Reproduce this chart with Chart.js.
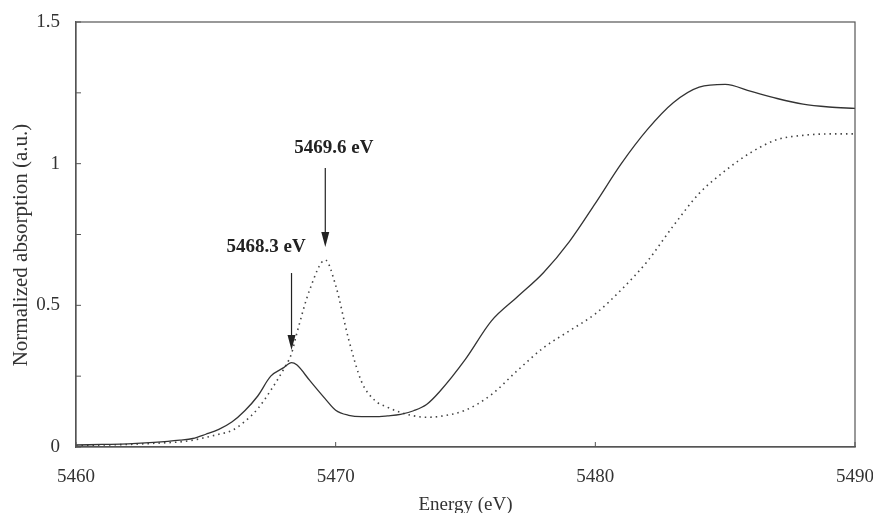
<!DOCTYPE html>
<html>
<head>
<meta charset="utf-8">
<script src="https://cdn.jsdelivr.net/npm/chart.js@4.4.1/dist/chart.umd.min.js"></script>
<style>
  html, body { margin: 0; padding: 0; background: #fff; }
  #wrap { width: 873px; height: 513px; }
</style>
</head>
<body>
<div id="wrap"><canvas id="xanes"></canvas></div>
<script>
// energy grid (eV)
const energy = [5460, 5461, 5462, 5463, 5464, 5464.5, 5465, 5465.5, 5466, 5466.5,
  5467, 5467.5, 5468, 5468.3, 5468.5, 5469, 5469.6, 5470, 5470.5, 5471,
  5471.5, 5472, 5472.5, 5473, 5473.5, 5474, 5475, 5476, 5477, 5478,
  5479, 5480, 5481, 5482, 5483, 5484, 5485, 5486, 5487, 5488, 5489, 5490];

// solid curve
const solidAbs = [0.007, 0.009, 0.011, 0.016, 0.024, 0.03, 0.045, 0.062, 0.088, 0.128,
  0.18, 0.25, 0.28, 0.298, 0.29, 0.235, 0.17, 0.13, 0.112, 0.107,
  0.107, 0.11, 0.115, 0.128, 0.15, 0.195, 0.31, 0.445, 0.53, 0.615,
  0.725, 0.86, 1.0, 1.12, 1.215, 1.27, 1.28, 1.255, 1.23, 1.21, 1.2, 1.195];

// dotted curve
const dottedAbs = [0.005, 0.007, 0.009, 0.013, 0.018, 0.024, 0.034, 0.045, 0.058, 0.09,
  0.135, 0.2, 0.275, 0.33, 0.4, 0.555, 0.66, 0.57, 0.38, 0.23,
  0.165, 0.14, 0.122, 0.11, 0.105, 0.108, 0.13, 0.185, 0.27, 0.35,
  0.41, 0.47, 0.555, 0.655, 0.78, 0.895, 0.975, 1.04, 1.085, 1.1, 1.105, 1.105];

const yTickLabels = [0, 0.5, 1, 1.5];

// peak annotations: text, arrow energy, arrow top / tip, label position
const peakLabels = ['5469.6 eV', '5468.3 eV'];
const peakEnergy = [5469.6, 5468.3];
const arrowFrom = [0.985, 0.614];
const arrowTo = [0.706, 0.342];
const labelEnergy = [5469.93, 5467.32];
const labelAbs = [1.055, 0.706];

const toPoints = vals => energy.map((e, i) => ({ x: e, y: vals[i] }));

const serif = '"Liberation Serif", "Times New Roman", serif';
const ink = '#333';

// frame + inward ticks + arrows
const decor = {
  id: 'decor',
  afterDraw(chart) {
    const { ctx, chartArea: a, scales } = chart;
    const xs = scales.x, ys = scales.y;
    ctx.save();
    ctx.strokeStyle = '#555';
    ctx.lineWidth = 1.2;
    ctx.strokeRect(a.left, a.top, a.right - a.left, a.bottom - a.top);

    ctx.lineWidth = 1;
    xs.ticks.forEach(t => {
      const px = xs.getPixelForValue(t.value);
      ctx.beginPath();
      ctx.moveTo(px, a.bottom);
      ctx.lineTo(px, a.bottom - 5);
      ctx.stroke();
    });
    ys.ticks.forEach(t => {
      const py = ys.getPixelForValue(t.value);
      ctx.beginPath();
      ctx.moveTo(a.left, py);
      ctx.lineTo(a.left + 5, py);
      ctx.stroke();
    });

    ctx.fillStyle = '#222';
    ctx.strokeStyle = '#222';
    peakLabels.forEach((lbl, i) => {
      const px = xs.getPixelForValue(peakEnergy[i]);
      const y0 = ys.getPixelForValue(arrowFrom[i]);
      const y1 = ys.getPixelForValue(arrowTo[i]);
      ctx.lineWidth = 1.2;
      ctx.beginPath();
      ctx.moveTo(px, y0);
      ctx.lineTo(px, y1 - 12);
      ctx.stroke();
      ctx.beginPath();
      ctx.moveTo(px - 4, y1 - 15);
      ctx.lineTo(px + 4, y1 - 15);
      ctx.lineTo(px, y1);
      ctx.closePath();
      ctx.fill();

      ctx.font = 'bold 19px ' + serif;
      ctx.textAlign = 'center';
      ctx.textBaseline = 'middle';
      ctx.fillText(lbl, xs.getPixelForValue(labelEnergy[i]), ys.getPixelForValue(labelAbs[i]));
    });
    ctx.restore();
  }
};

new Chart(document.getElementById('xanes'), {
  type: 'scatter',
  data: {
    datasets: [
      {
        label: 'solid',
        data: toPoints(solidAbs),
        showLine: true,
        borderColor: ink,
        borderWidth: 1.3,
        pointRadius: 0,
        cubicInterpolationMode: 'monotone'
      },
      {
        label: 'dotted',
        data: toPoints(dottedAbs),
        showLine: true,
        borderColor: '#444',
        borderWidth: 1.6,
        borderDash: [1.5, 4],
        pointRadius: 0,
        cubicInterpolationMode: 'monotone'
      }
    ]
  },
  options: {
    responsive: true,
    maintainAspectRatio: false,
    animation: false,
    layout: { padding: { top: 22, right: 0, left: 0, bottom: 0 } },
    plugins: {
      legend: { display: false },
      tooltip: { enabled: false }
    },
    scales: {
      x: {
        type: 'linear',
        min: 5460,
        max: 5490,
        ticks: {
          stepSize: 10,
          color: ink,
          padding: 11,
          font: { family: serif, size: 19 },
          callback: v => String(v)
        },
        grid: { display: false },
        border: { color: '#555', width: 1.2 },
        title: {
          display: true,
          text: 'Energy (eV)',
          color: ink,
          font: { family: serif, size: 19, lineHeight: 1 },
          padding: { top: 0, bottom: -2 }
        },
        afterFit(s) {
          s.height = 66;
          s.paddingLeft = 0;
          s.paddingRight = 18;
        }
      },
      y: {
        min: 0,
        max: 1.5,
        ticks: {
          stepSize: 0.25,
          color: ink,
          padding: 8,
          font: { family: serif, size: 19 },
          callback: v => yTickLabels.includes(v) ? String(v) : ''
        },
        grid: { display: false },
        border: { color: '#555', width: 1.2 },
        title: {
          display: true,
          text: 'Normalized absorption (a.u.)    ',
          color: ink,
          font: { family: serif, size: 21 },
          padding: { top: 9, bottom: 0 }
        },
        afterFit(s) {
          s.width = 76;
          s.paddingTop = 0;
          s.paddingBottom = 0;
        }
      }
    }
  },
  plugins: [decor]
});
</script>
</body>
</html>
